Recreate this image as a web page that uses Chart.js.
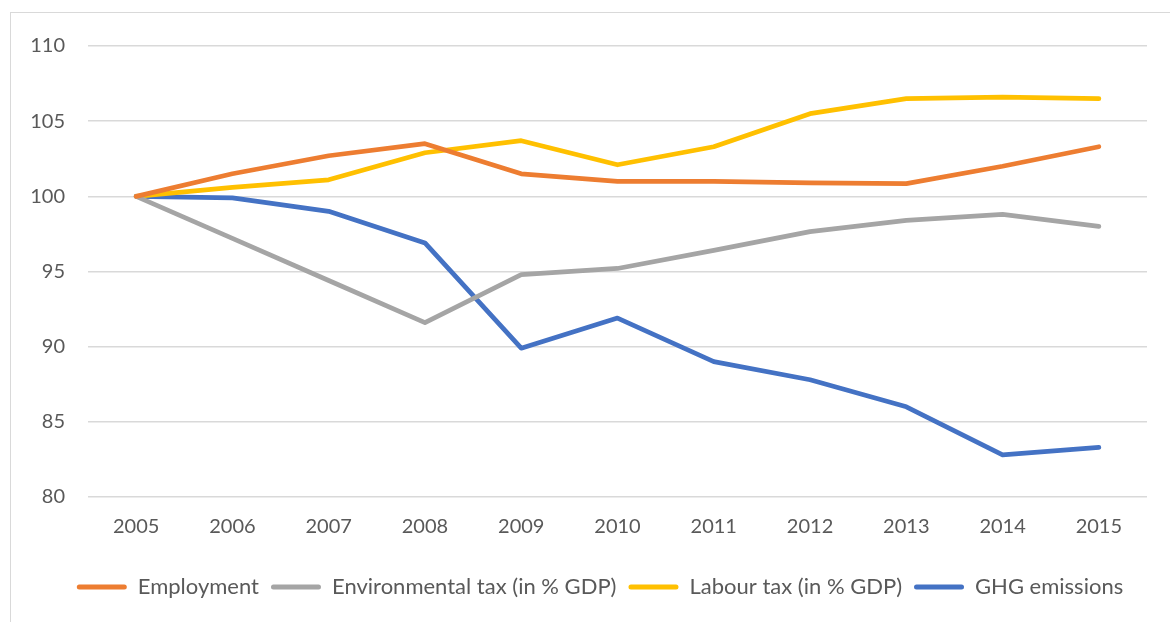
<!DOCTYPE html>
<html>
<head>
<meta charset="utf-8">
<script src="https://cdn.jsdelivr.net/npm/chart.js@4.4.1/dist/chart.umd.min.js"></script>
<style>
  html, body { margin: 0; padding: 0; background: #fff; }
  #wrap { position: relative; width: 1170px; height: 622px; overflow: hidden; }
  #frame { position: absolute; left: 10px; top: 12px; width: 1200px; height: 700px;
           border-left: 1px solid #d9d9d9; border-top: 1px solid #d9d9d9; }
  #chart { position: absolute; left: 0; top: 0; }
</style>
</head>
<body>
<div id="wrap">
  <div id="frame"></div>
  <canvas id="chart" width="1170" height="622"></canvas>
</div>
<script>
// index 2005 = 100
const years = ['2005','2006','2007','2008','2009','2010','2011','2012','2013','2014','2015'];
const employment = [100, 101.5, 102.7, 103.5, 101.5, 101.0, 101.0, 100.9, 100.85, 102.0, 103.3];
const envTax     = [100, 97.2, 94.4, 91.6, 94.8, 95.2, 96.4, 97.65, 98.4, 98.8, 98.0];
const labourTax  = [100, 100.6, 101.1, 102.9, 103.7, 102.1, 103.3, 105.5, 106.5, 106.6, 106.5];
const ghg        = [100, 99.9, 99.0, 96.9, 89.9, 91.9, 89.0, 87.8, 86.0, 82.8, 83.3];

const seriesNames = ['Employment', 'Environmental tax (in % GDP)', 'Labour tax (in % GDP)', 'GHG emissions'];
const seriesColors = ['#ED7D31', '#A5A5A5', '#FFC000', '#4472C4'];

const textColor = '#595959';
const fontFamily = 'Lato, "Open Sans", sans-serif';

function makeSet(i, values){
  return {
    label: seriesNames[i],
    data: values,
    borderColor: seriesColors[i],
    backgroundColor: seriesColors[i],
    borderWidth: 4.75,
    borderCapStyle: 'round',
    borderJoinStyle: 'round',
    tension: 0,
    pointRadius: 0,
    pointHoverRadius: 0,
    fill: false
  };
}

//--legend sits a bit right of canvas centre in the original
const legendShift = {
  id: 'legendShift',
  afterUpdate: function(c){
    if (c.legend) {
      c.legend.left = 53;
    }
  }
};

const ctx = document.getElementById('chart').getContext('2d');
const chart = new Chart(ctx, {
  type: 'line',
  data: {
    labels: years,
    datasets: [
      makeSet(0, employment),
      makeSet(1, envTax),
      makeSet(2, labourTax),
      makeSet(3, ghg)
    ]
  },
  plugins: [legendShift],
  options: {
    responsive: false,
    animation: false,
    layout: { padding: { top: 46, right: 23, left: 0, bottom: 14 } },
    scales: {
      x: {
        offset: true,
        grid: { display: false, drawTicks: false },
        border: { display: false },
        ticks: { color: textColor, font: { family: fontFamily, size: 20 }, padding: 18, maxRotation: 0 },
        afterFit: function(scale){ scale.height = 67; }
      },
      y: {
        min: 80,
        max: 110,
        grid: { color: '#D9D9D9', lineWidth: 1.5, drawTicks: false },
        border: { display: false },
        ticks: { stepSize: 5, color: textColor, font: { family: fontFamily, size: 20 }, padding: 23 },
        afterFit: function(scale){ scale.width = 88; }
      }
    },
    plugins: {
      tooltip: { enabled: false },
      legend: {
        position: 'bottom',
        labels: {
          color: textColor,
          font: { family: fontFamily, size: 22 },
          boxWidth: 50,
          boxHeight: 5,
          useBorderRadius: true,
          borderRadius: 2.5,
          padding: 12,
          generateLabels: function(c){
            const items = Chart.defaults.plugins.legend.labels.generateLabels(c);
            items.forEach(function(it){ it.lineWidth = 0; });
            return items;
          }
        }
      }
    }
  }
});
</script>
</body>
</html>
